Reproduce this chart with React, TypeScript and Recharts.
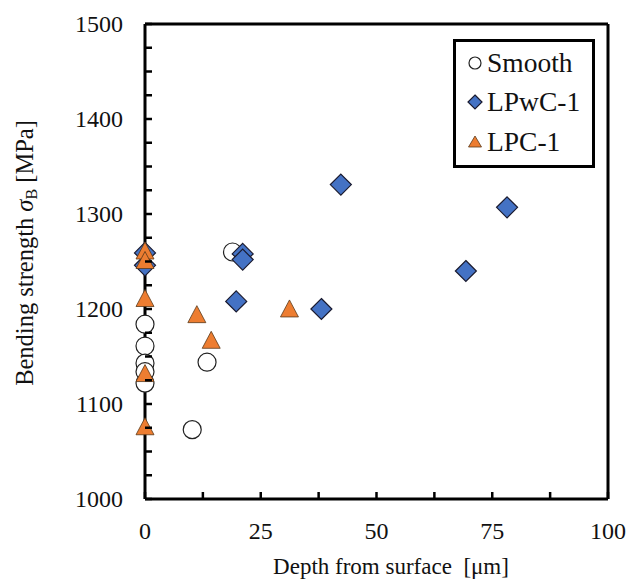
import React from 'react';
import { ScatterChart, Scatter, XAxis, YAxis, ReferenceLine } from 'recharts';

const smoothDepth = [0, 0, 0, 0, 0, 10.2, 13.4, 18.9];
const smoothStrength = [1184, 1161, 1143, 1134, 1122, 1073, 1144, 1260];

const lpwcDepth = [0, 0, 19.7, 21.1, 21.1, 38.1, 42.3, 69.3, 78.2];
const lpwcStrength = [1259, 1246, 1208, 1258, 1252, 1200, 1331, 1240, 1307];

const lpcDepth = [0, 0, 0, 0, 0, 11.2, 14.3, 31.2];
const lpcStrength = [1260, 1250, 1210, 1131, 1075, 1193, 1166, 1199];

const xTicks = [0, 12.5, 25, 37.5, 50, 62.5, 75, 87.5, 100];
const yTicks = [1000, 1025, 1050, 1075, 1100, 1125, 1150, 1175, 1200, 1225, 1250, 1275, 1300, 1325, 1350, 1375, 1400, 1425, 1450, 1475, 1500];

const toPoints = (xs: number[], ys: number[]) => xs.map((x, i) => ({ x, y: ys[i] }));

const smoothData = toPoints(smoothDepth, smoothStrength);
const lpwcData = toPoints(lpwcDepth, lpwcStrength);
const lpcData = toPoints(lpcDepth, lpcStrength);

const FONT = '"Liberation Serif", "Times New Roman", serif';
const BLUE = '#4472C4';
const ORANGE = '#ED7D31';

const CircleShape = (props: any) => (
    <circle cx={props.cx} cy={props.cy} r={9} fill="#fff" stroke="#222" strokeWidth={1.2} />
);

const DiamondShape = (props: any) => {
    const { cx, cy } = props;
    const s = 10.5;
    return (
        <path
            d={`M${cx},${cy - s}L${cx + s},${cy}L${cx},${cy + s}L${cx - s},${cy}Z`}
            fill={BLUE}
            stroke="#1a1a2e"
            strokeWidth={1.2}
        />
    );
};

const TriangleShape = (props: any) => {
    const { cx, cy } = props;
    return (
        <path
            d={`M${cx},${cy - 10}L${cx + 9},${cy + 7}L${cx - 9},${cy + 7}Z`}
            fill={ORANGE}
            stroke="#5a3a1a"
            strokeWidth={0.8}
        />
    );
};

const YTick = (props: any) => {
    const { x, y, payload } = props;
    const major = payload.value % 100 === 0;
    return (
        <g>
            <line x1={x} y1={y} x2={x + 7} y2={y} stroke="#000" strokeWidth={2.5} />
            {major && (
                <text x={x - 22} y={y} dy={8} textAnchor="end" fontFamily={FONT} fontSize={24} fill="#111">
                    {payload.value}
                </text>
            )}
        </g>
    );
};

const XTick = (props: any) => {
    const { x, y, payload } = props;
    const major = payload.value % 25 === 0;
    return (
        <g>
            <line x1={x} y1={y} x2={x} y2={y - 7} stroke="#000" strokeWidth={2.5} />
            {major && (
                <text x={x} y={y + 40} textAnchor="middle" fontFamily={FONT} fontSize={24} fill="#111">
                    {payload.value}
                </text>
            )}
        </g>
    );
};

const legendItems = [
    { name: 'Smooth', kind: 'circle' },
    { name: 'LPwC-1', kind: 'diamond' },
    { name: 'LPC-1', kind: 'triangle' },
];

const LegendMarker = ({ kind }: { kind: string }) => (
    <svg width={20} height={20} style={{ marginRight: 2 }}>
        {kind === 'circle' && <circle cx={10} cy={10} r={6} fill="#fff" stroke="#222" strokeWidth={1.2} />}
        {kind === 'diamond' && <path d="M10,3L17,10L10,17L3,10Z" fill={BLUE} stroke="#1a1a2e" strokeWidth={1.2} />}
        {kind === 'triangle' && <path d="M10,4L16.5,15L3.5,15Z" fill={ORANGE} stroke="#5a3a1a" strokeWidth={0.8} />}
    </svg>
);

const LegendBox = () => (
    <div
        style={{
            position: 'absolute',
            left: 453,
            top: 39,
            width: 142,
            boxSizing: 'border-box',
            border: '3px solid #000',
            background: '#fff',
            padding: '1px 6px 3px 9px',
            fontFamily: FONT,
            fontSize: 27.5,
            color: '#111',
        }}
    >
        {legendItems.map((it) => (
            <div key={it.name} style={{ display: 'flex', alignItems: 'center', height: 39.5 }}>
                <LegendMarker kind={it.kind} />
                <span>{it.name}</span>
            </div>
        ))}
    </div>
);

export default function App() {
    return (
        <div style={{ position: 'absolute', left: 0, top: 0, width: 630, height: 581, background: '#fff' }}>
            <ScatterChart width={630} height={581} margin={{ top: 24, right: 22, bottom: 0, left: 0 }}>
                <XAxis
                    type="number"
                    dataKey="x"
                    domain={[0, 100]}
                    ticks={xTicks}
                    tick={<XTick />}
                    tickSize={0}
                    tickMargin={0}
                    height={82}
                    axisLine={{ stroke: '#000', strokeWidth: 3 }}
                    interval={0}
                />
                <YAxis
                    type="number"
                    dataKey="y"
                    domain={[1000, 1500]}
                    ticks={yTicks}
                    tick={<YTick />}
                    tickSize={0}
                    tickMargin={0}
                    width={145}
                    axisLine={{ stroke: '#000', strokeWidth: 3 }}
                    interval={0}
                />
                <ReferenceLine y={1500} stroke="#000" strokeWidth={3} />
                <ReferenceLine x={100} stroke="#000" strokeWidth={3} />
                <Scatter name="Smooth" data={smoothData} shape={<CircleShape />} isAnimationActive={false} />
                <Scatter name="LPwC-1" data={lpwcData} shape={<DiamondShape />} isAnimationActive={false} />
                <Scatter name="LPC-1" data={lpcData} shape={<TriangleShape />} isAnimationActive={false} />
                <text x={391} y={574} textAnchor="middle" fontFamily={FONT} fontSize={23} fill="#111">
                    Depth from surface{'\u00a0\u00a0'}[μm]
                </text>
                <text
                    x={33}
                    y={253}
                    transform="rotate(-90 33 253)"
                    textAnchor="middle"
                    fontFamily={FONT}
                    fontSize={24.5}
                    fill="#111"
                >
                    Bending strength <tspan fontStyle="italic">σ</tspan>
                    <tspan fontSize={16} dy={4}>B</tspan>
                    <tspan dy={-4}> [MPa]</tspan>
                </text>
            </ScatterChart>
            <LegendBox />
        </div>
    );
}
